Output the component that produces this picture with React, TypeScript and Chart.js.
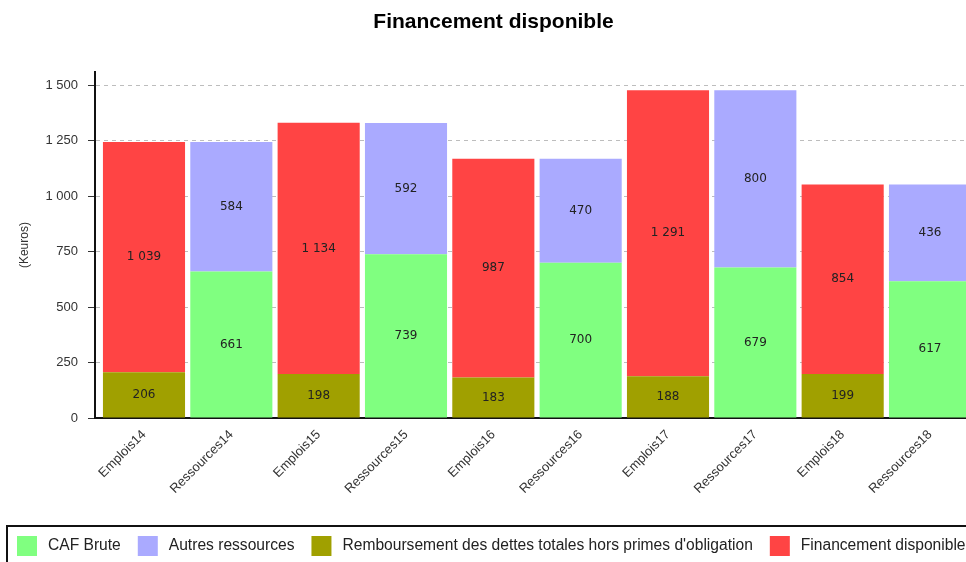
import React, { useEffect, useRef } from "react";
import { Chart, registerables } from "chart.js";

Chart.register(...registerables);

const chartTitle = "Financement disponible";
const yAxisTitle = "(Keuros)";
const categories = [
  "Emplois14", "Ressources14", "Emplois15", "Ressources15", "Emplois16",
  "Ressources16", "Emplois17", "Ressources17", "Emplois18", "Ressources18",
];
const cafBrute = [null, 661, null, 739, null, 700, null, 679, null, 617];
const autresRessources = [null, 584, null, 592, null, 470, null, 800, null, 436];
const remboursement = [206, null, 198, null, 183, null, 188, null, 199, null];
const financement = [1039, null, 1134, null, 987, null, 1291, null, 854, null];
const yTicks = [0, 250, 500, 750, 1000, 1250, 1500];

const seriesNames = [
  "CAF Brute",
  "Autres ressources",
  "Remboursement des dettes totales hors primes d'obligation",
  "Financement disponible",
];
const seriesColors = ["#80FF80", "#AAAAFF", "#A0A000", "#FF4444"];

const fmt = (v: number) => String(v).replace(/\B(?=(\d{3})+(?!\d))/g, " ");

const SANS = "'Liberation Sans', Arial, sans-serif";

const barLabels = {
  id: "barLabels",
  afterDatasetsDraw(chart: any) {
    const ctx = chart.ctx;
    ctx.save();
    ctx.font = "12px 'DejaVu Sans', sans-serif";
    ctx.fillStyle = "#222";
    ctx.textAlign = "center";
    ctx.textBaseline = "middle";
    chart.data.datasets.forEach((ds: any, di: number) => {
      const meta = chart.getDatasetMeta(di);
      meta.data.forEach((el: any, i: number) => {
        const raw = ds.data[i];
        if (!raw || raw.y == null) return;
        const p = el.getProps(["x", "y", "base"], true);
        ctx.fillText(fmt(raw.y), p.x, (p.y + p.base) / 2);
      });
    });
    ctx.restore();
  },
};

const boxLegend = {
  id: "boxLegend",
  afterDraw(chart: any) {
    const ctx = chart.ctx;
    ctx.save();
    ctx.lineWidth = 2;
    ctx.strokeStyle = "#111";
    ctx.strokeRect(7, 526, 1100, 100);
    ctx.font = `15.6px ${SANS}`;
    ctx.textBaseline = "middle";
    ctx.textAlign = "left";
    let x = 17;
    chart.data.datasets.forEach((ds: any) => {
      ctx.fillStyle = ds.backgroundColor;
      ctx.fillRect(x, 536, 20, 20);
      ctx.fillStyle = "#222";
      const tx = x + 31;
      ctx.fillText(ds.label, tx, 546);
      x = tx + ctx.measureText(ds.label).width + 17;
    });
    ctx.restore();
  },
};

export default function App() {
  const ref = useRef<HTMLCanvasElement>(null);
  useEffect(() => {
    if (!ref.current) return;
    const mk = (arr: (number | null)[]) => arr.map((v, i) => ({ x: i, y: v }));
    const seriesData = [cafBrute, autresRessources, remboursement, financement];
    const chart = new Chart(ref.current, {
      type: "bar",
      data: {
        datasets: seriesData.map((arr, k) => ({
          label: seriesNames[k],
          data: mk(arr) as any,
          backgroundColor: seriesColors[k],
          borderWidth: 0,
          barPercentage: 0.94,
          categoryPercentage: 1,
        })),
      },
      options: {
        responsive: false,
        animation: false,
        devicePixelRatio: 1,
        layout: { padding: { left: 8, right: 6, top: 0, bottom: 36 } },
        plugins: {
          legend: { display: false },
          tooltip: { enabled: false },
          title: {
            display: true,
            text: chartTitle,
            color: "#000",
            font: { family: SANS, size: 21, weight: "bold" },
            padding: { top: 10, bottom: 37 },
          },
        },
        scales: {
          x: {
            type: "linear",
            min: -0.561,
            max: 9.561,
            offset: false,
            stacked: true,
            grid: { display: false, drawTicks: false },
            border: { display: true, color: "#111", width: 2 },
            ticks: {
              stepSize: 1,
              includeBounds: false,
              autoSkip: false,
              minRotation: 45,
              maxRotation: 45,
              padding: 9,
              color: "#333",
              font: { family: SANS, size: 13 },
              callback: (v: any) => (Number.isInteger(v) ? categories[v] ?? "" : ""),
            },
            afterFit: (s: any) => {
              s.height = 108;
            },
          },
          y: {
            min: 0,
            max: 1560,
            stacked: true,
            afterBuildTicks: (s: any) => {
              s.ticks = yTicks.map((v) => ({ value: v }));
            },
            grid: { color: "#bdbdbd", lineWidth: 1, tickColor: "#333", tickLength: 7 },
            border: { display: true, color: "#111", width: 2, dash: [4, 4] },
            ticks: {
              padding: 10,
              color: "#333",
              font: { family: SANS, size: 13 },
              callback: (v: any) => fmt(Number(v)),
            },
            title: {
              display: true,
              text: yAxisTitle,
              color: "#333",
              font: { family: SANS, size: 12 },
              padding: { top: 9, bottom: 4 },
            },
            afterFit: (s: any) => {
              s.width = 87;
            },
          },
        },
      },
      plugins: [barLabels, boxLegend],
    });
    return () => chart.destroy();
  }, []);
  return (
    <div
      style={{
        position: "fixed",
        left: 0,
        top: 0,
        width: 966,
        height: 562,
        overflow: "hidden",
        background: "#fff",
      }}
    >
      <canvas ref={ref} width={985} height={562} style={{ width: 985, height: 562, display: "block" }} />
    </div>
  );
}
